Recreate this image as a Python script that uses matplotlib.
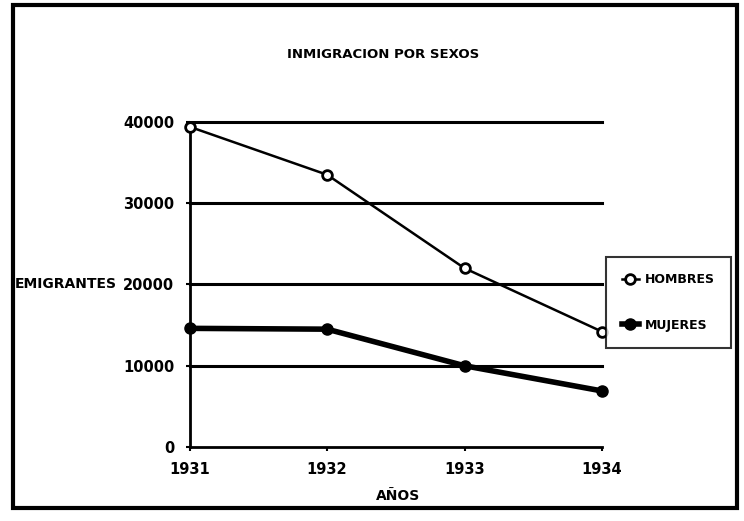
import matplotlib
matplotlib.use("Agg")
import matplotlib.pyplot as plt
from matplotlib.patches import Rectangle

years = [1931, 1932, 1933, 1934]
hombres = [39400, 33500, 22000, 14200]
mujeres = [14600, 14500, 10000, 6900]
yticks = [0, 10000, 20000, 30000, 40000]

plt.rcParams['font.family'] = ['DejaVu Sans']
fig = plt.figure(figsize=(7.44, 5.21), dpi=100)
ax = fig.add_axes([0.255, 0.142, 0.554, 0.624])

for v in yticks[1:]:
    ax.axhline(v, color='black', lw=2.2, zorder=1, clip_on=False)

ax.plot(years, hombres, color='black', lw=1.8, marker='o', ms=7,
        mfc='white', mec='black', mew=2, label='HOMBRES', zorder=3, clip_on=False)
ax.plot(years, mujeres, color='black', lw=4, marker='o', ms=8,
        mfc='black', mec='black', label='MUJERES', zorder=3, clip_on=False)

ax.set_xlim(1931, 1934)
ax.set_ylim(0, 40000)
ax.set_xticks(years)
ax.set_xticklabels([str(y) for y in years], fontsize=10.5, fontweight='bold')
ax.set_yticks(yticks)
ax.set_yticklabels([str(v) for v in yticks], fontsize=10.5, fontweight='bold')
ax.tick_params(length=3, width=1.5, pad=8)
for s in ['top', 'right']:
    ax.spines[s].set_visible(False)
for s in ['left', 'bottom']:
    ax.spines[s].set_linewidth(2)
ax.spines['left'].set_bounds(0, 40000)

fig.text(0.515, 0.895, 'INMIGRACION POR SEXOS', ha='center', va='center',
         fontsize=9.5, fontweight='bold')
fig.text(0.02, 0.455, 'EMIGRANTES', ha='left', va='center', fontsize=10,
         fontweight='bold')
fig.text(0.535, 0.048, 'AÑOS', ha='center', va='center', fontsize=10,
         fontweight='bold')

leg = ax.legend(loc='center left', bbox_to_anchor=(1.01, 0.445), frameon=True,
                fancybox=False, edgecolor='black',
                handlelength=1.3, handletextpad=0.5, borderpad=1.3,
                labelspacing=2.6, borderaxespad=0,
                prop={'weight': 'bold', 'size': 9})
leg.get_frame().set_linewidth(1.5)

fig.patches.append(Rectangle((0.018, 0.025), 0.972, 0.965, transform=fig.transFigure,
                             fill=False, edgecolor='black', lw=3))

fig.savefig('out.png', dpi=100)
